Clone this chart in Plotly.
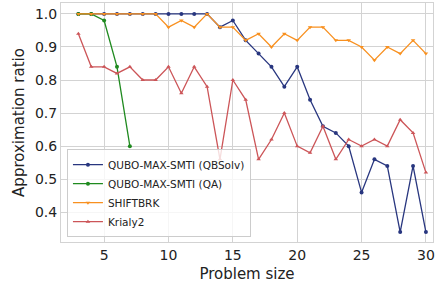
import plotly.graph_objects as go

sizes = list(range(3, 31))
qbsolv = [1.0, 1.0, 1.0, 1.0, 1.0, 1.0, 1.0, 1.0, 1.0, 1.0, 1.0, 0.96, 0.98, 0.92,
          0.88, 0.84, 0.78, 0.84, 0.74, 0.66, 0.64, 0.60, 0.46, 0.56, 0.54, 0.34, 0.54, 0.34]
qa_sizes = [3, 4, 5, 6, 7]
qa = [1.0, 1.0, 0.98, 0.84, 0.60]
shiftbrk = [1.0, 1.0, 1.0, 1.0, 1.0, 1.0, 1.0, 0.96, 0.98, 0.96, 1.0, 0.96, 0.96, 0.92,
            0.94, 0.90, 0.94, 0.92, 0.96, 0.96, 0.92, 0.92, 0.90, 0.86, 0.90, 0.88, 0.92, 0.88]
krialy2 = [0.94, 0.84, 0.84, 0.82, 0.84, 0.80, 0.80, 0.84, 0.76, 0.84, 0.78, 0.56, 0.80, 0.74,
           0.56, 0.62, 0.70, 0.60, 0.58, 0.66, 0.56, 0.62, 0.60, 0.62, 0.60, 0.68, 0.64, 0.52]

x_ticks = [5, 10, 15, 20, 25, 30]
y_ticks = [0.4, 0.5, 0.6, 0.7, 0.8, 0.9, 1.0]

fig = go.Figure()
series = [
    ("QUBO-MAX-SMTI (QBSolv)", sizes, qbsolv, "#28367f", "circle"),
    ("QUBO-MAX-SMTI (QA)", qa_sizes, qa, "#1f8a1f", "circle"),
    ("SHIFTBRK", sizes, shiftbrk, "#f8901f", "triangle-down"),
    ("Krialy2", sizes, krialy2, "#cc5558", "triangle-up"),
]
for name, xs, ys, col, sym in series:
    fig.add_trace(go.Scatter(x=xs, y=ys, name=name, mode="lines+markers",
                             line=dict(color=col, width=1.3),
                             marker=dict(color=col, size=4, symbol=sym)))

fig.update_layout(
    width=437, height=288,
    margin=dict(l=61, r=2, t=2, b=46),
    paper_bgcolor="white", plot_bgcolor="white",
    font=dict(family="DejaVu Sans", size=14, color="#222222"),
    showlegend=True,
    legend=dict(x=0.016, y=0.02, xanchor="left", yanchor="bottom",
                bgcolor="rgba(255,255,255,0.8)", bordercolor="#cccccc", borderwidth=1,
                font=dict(size=10.5), tracegroupgap=0, itemwidth=30),
)
fig.update_xaxes(range=[1.65, 30.55], tickvals=x_ticks, showgrid=True, gridcolor="#d3d3d3",
                 gridwidth=1, showline=True, linecolor="#d3d3d3", mirror=True, zeroline=False,
                 ticks="", title=dict(text="Problem size", font=dict(size=15), standoff=6),
                 tickfont=dict(size=14))
fig.update_yaxes(range=[0.31, 1.033], tickvals=y_ticks, tickformat=".1f", showgrid=True,
                 gridcolor="#d3d3d3", gridwidth=1, showline=True, linecolor="#d3d3d3",
                 mirror=True, zeroline=False, ticks="",
                 title=dict(text="Approximation ratio", font=dict(size=15), standoff=6),
                 tickfont=dict(size=14))

fig.write_html("out.html", config={"displayModeBar": False},
               post_script="document.body.style.margin='0px';")
